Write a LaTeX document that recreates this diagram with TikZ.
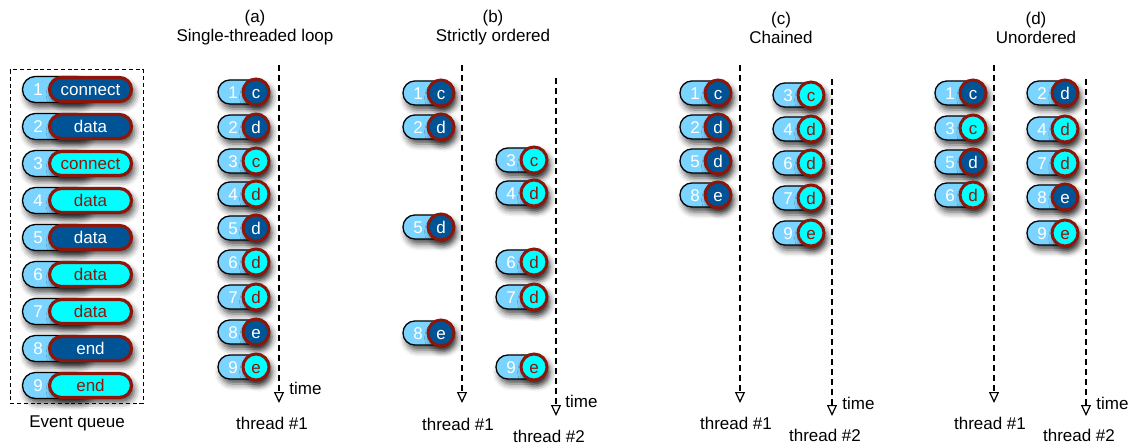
\documentclass[tikz,border=0pt]{standalone}
\usepackage{fontspec}
\setmainfont{Liberation Sans}
\usetikzlibrary{arrows.meta,shadows.blur}

\definecolor{lblue}{RGB}{122,212,255}
\definecolor{dblue}{RGB}{0,84,150}
\definecolor{ecyan}{RGB}{0,255,255}
\definecolor{bred}{RGB}{140,22,10}

\tikzset{
  txt/.style={font=\fontsize{8.5pt}{9.5pt}\selectfont, inner sep=0pt},
  lab/.style={txt, text=black},
  sh/.style={blur shadow={shadow xshift=1.5pt, shadow yshift=-2.5pt,
             shadow blur radius=3.2pt, shadow opacity=70}},
  % light-blue sequence tab behind each event
  spill/.style={sh, rectangle, draw=black, line width=0.65pt, fill=lblue,
                minimum width=23pt, minimum height=12pt, rounded corners=5.9pt, inner sep=0pt},
  qpill/.style={spill, minimum width=33.5pt, minimum height=13pt, rounded corners=6.4pt},
  digit/.style={txt, text=white, text height=6.1pt, text depth=0pt},
  % event type circles
  evc/.style={sh, circle, line width=1.5pt, draw=bred, minimum size=13pt, inner sep=0pt,
              txt, text height=6.1pt, text depth=0pt},
  dkcirc/.style={evc, fill=dblue, text=white},
  cycirc/.style={evc, fill=ecyan, text=bred},
  % event type pills in the queue
  evp/.style={sh, rectangle, line width=1.6pt, draw=bred, minimum width=41pt, minimum height=12pt,
              rounded corners=6pt, inner sep=0pt, txt, text height=6.1pt, text depth=0pt},
  dkpill/.style={evp, fill=dblue, text=white},
  cypill/.style={evp, fill=ecyan, text=bred},
  thr/.style={line width=0.65pt, dash pattern=on 3pt off 2pt,
              -{Triangle[open, length=5.5pt, width=5pt, line width=0.6pt]}},
  qbox/.style={line width=0.5pt, dash pattern=on 2pt off 1.4pt},
}

% small event: name, left x, y, number, letter, circle style
\newcommand\evt[6]{%
  \node[spill] (#1p) at ({#2+23},#3) {};
  \node[digit] (#1n) at ({#2+15},#3) {#4};
  \node[#6] (#1c) at ({#2+38},#3) {#5};
}
% queue event: name, y, number, label, pill style
\newcommand\qev[5]{%
  \node[qpill] (#1p) at (56,#2) {};
  \node[digit] (#1n) at (38,#2) {#3};
  \node[#5] (#1e) at (90.5,#2) {#4};
}

\begin{document}
\begin{tikzpicture}[x=0.5pt, y=-0.5pt]
\useasboundingbox (0,0) rectangle (1135,443);

% ---- event queue
\draw[qbox] (10,70) rectangle (143,403);
\qev{q1}{89.5}{1}{connect}{dkpill}
\qev{q2}{126.5}{2}{data}{dkpill}
\qev{q3}{163.5}{3}{connect}{cypill}
\qev{q4}{200.5}{4}{data}{cypill}
\qev{q5}{237.5}{5}{data}{dkpill}
\qev{q6}{274.5}{6}{data}{cypill}
\qev{q7}{311.5}{7}{data}{cypill}
\qev{q8}{348.5}{8}{end}{dkpill}
\qev{q9}{385.5}{9}{end}{cypill}
\node[lab] (qlab) at (77,423) {Event queue};

% ---- titles
\node[lab, align=center] (ta) at (255,27.5) {(a)\\Single-threaded loop};
\node[lab, align=center] (tb) at (493,27.5) {(b)\\Strictly ordered};
\node[lab, align=center] (tc) at (781,27.5) {(c)\\Chained};
\node[lab, align=center] (td) at (1036,27.5) {(d)\\Unordered};

% ---- (a) single-threaded loop
\coordinate (a1s) at (279,65); \coordinate (a1e) at (279,403);
\draw[thr] (a1s) -- (a1e);
\node[lab, anchor=west] (atime) at (289,388) {time};
\node[lab] (athr) at (272,423) {thread \#1};
\evt{a1}{218}{92}{1}{c}{dkcirc}
\evt{a2}{218}{127}{2}{d}{dkcirc}
\evt{a3}{218}{161}{3}{c}{cycirc}
\evt{a4}{218}{194}{4}{d}{cycirc}
\evt{a5}{218}{228}{5}{d}{dkcirc}
\evt{a6}{218}{262}{6}{d}{cycirc}
\evt{a7}{218}{297}{7}{d}{cycirc}
\evt{a8}{218}{332}{8}{e}{dkcirc}
\evt{a9}{218}{367}{9}{e}{cycirc}

% ---- (b) strictly ordered
\coordinate (b1s) at (462,65); \coordinate (b1e) at (462,403);
\draw[thr] (b1s) -- (b1e);
\node[lab] (bthr1) at (458,424) {thread \#1};
\coordinate (b2s) at (556,78); \coordinate (b2e) at (556,416);
\draw[thr] (b2s) -- (b2e);
\node[lab, anchor=west] (btime) at (565,401) {time};
\node[lab] (bthr2) at (549,436) {thread \#2};
\evt{b1}{403}{93}{1}{c}{dkcirc}
\evt{b2}{403}{127}{2}{d}{dkcirc}
\evt{b5}{403}{227}{5}{d}{dkcirc}
\evt{b8}{403}{333}{8}{e}{dkcirc}
\evt{b3}{496}{160}{3}{c}{cycirc}
\evt{b4}{496}{193}{4}{d}{cycirc}
\evt{b6}{496}{262}{6}{d}{cycirc}
\evt{b7}{496}{297}{7}{d}{cycirc}
\evt{b9}{496}{367}{9}{e}{cycirc}

% ---- (c) chained
\coordinate (c1s) at (740,65); \coordinate (c1e) at (740,403);
\draw[thr] (c1s) -- (c1e);
\node[lab] (cthr1) at (736,423) {thread \#1};
\coordinate (c2s) at (832,79); \coordinate (c2e) at (832,416);
\draw[thr] (c2s) -- (c2e);
\node[lab, anchor=west] (ctime) at (842,403) {time};
\node[lab] (cthr2) at (825,435) {thread \#2};
\evt{c1}{680}{93}{1}{c}{dkcirc}
\evt{c2}{680}{127}{2}{d}{dkcirc}
\evt{c5}{680}{161}{5}{d}{dkcirc}
\evt{c8}{680}{195}{8}{e}{dkcirc}
\evt{c3}{773}{95}{3}{c}{cycirc}
\evt{c4}{773}{129}{4}{d}{cycirc}
\evt{c6}{773}{163}{6}{d}{cycirc}
\evt{c7}{773}{198}{7}{d}{cycirc}
\evt{c9}{773}{233}{9}{e}{cycirc}

% ---- (d) unordered
\coordinate (d1s) at (994,65); \coordinate (d1e) at (994,403);
\draw[thr] (d1s) -- (d1e);
\node[lab] (dthr1) at (990,423) {thread \#1};
\coordinate (d2s) at (1086,79); \coordinate (d2e) at (1086,416);
\draw[thr] (d2s) -- (d2e);
\node[lab, anchor=west] (dtime) at (1096,403) {time};
\node[lab] (dthr2) at (1079,435) {thread \#2};
\evt{d1}{935}{93}{1}{c}{dkcirc}
\evt{d3}{935}{128}{3}{c}{cycirc}
\evt{d5}{935}{162}{5}{d}{dkcirc}
\evt{d6}{935}{195}{6}{d}{cycirc}
\evt{d2}{1027}{93}{2}{d}{dkcirc}
\evt{d4}{1027}{129}{4}{d}{cycirc}
\evt{d7}{1027}{163}{7}{d}{cycirc}
\evt{d8}{1027}{197}{8}{e}{dkcirc}
\evt{d9}{1027}{233}{9}{e}{cycirc}
\end{tikzpicture}
\end{document}
